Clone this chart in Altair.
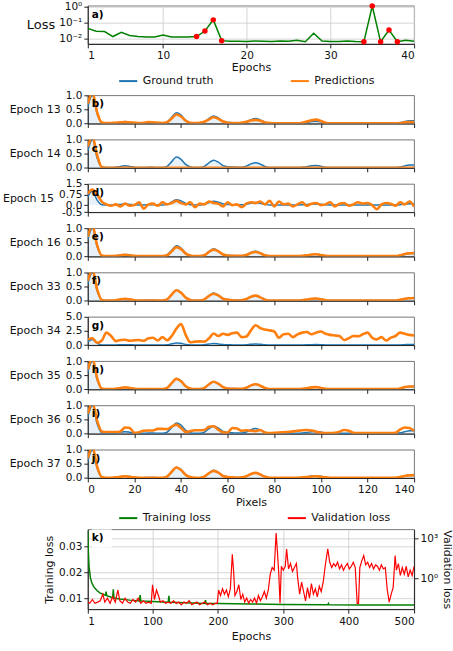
import altair as alt
import pandas as pd

FONT = "DejaVu Sans"
BLUE = "#1f77b4"
ORANGE = "#ff7f0e"
GREEN = "#008000"
RED = "#ff0000"
W = 327

# ---------------- panel a) loss over the first 40 epochs ----------------
EPOCHS_A = list(range(1, 41))
LOSS_A = [0.043, 0.028, 0.027, 0.013, 0.024, 0.015, 0.013, 0.012, 0.012, 0.016,
          0.012, 0.012, 0.012, 0.013, 0.029, 0.15, 0.0071, 0.0065, 0.0065, 0.0062,
          0.0068, 0.0065, 0.0062, 0.0068, 0.0065, 0.0075, 0.006, 0.021, 0.0068, 0.0062,
          0.0062, 0.0068, 0.0062, 0.006, 1.15, 0.006, 0.034, 0.006, 0.0075, 0.0065]
MARKED_EPOCHS = [14, 15, 16, 17, 34, 35, 36, 37, 38]
EPOCH_TICKS_A = [1, 10, 20, 30, 40]
LOSS_TICKS_A = [0.01, 0.1, 1]

# ---------------- panels b) - j) signals ----------------
PIXELS = list(range(0, 141, 2))
PIXEL_TICKS = [0, 20, 40, 60, 80, 100, 120, 140]
GROUND_TRUTH = [0.60, 1.00, 0.35, 0.03, 0.01, 0.01, 0.02, 0.05, 0.07, 0.05,
                0.02, 0.01, 0.01, 0.02, 0.02, 0.01, 0.01, 0.05, 0.22, 0.38,
                0.30, 0.12, 0.03, 0.01, 0.01, 0.05, 0.18, 0.27, 0.20, 0.08,
                0.04, 0.03, 0.02, 0.02, 0.06, 0.14, 0.18, 0.13, 0.05, 0.01,
                0.01, 0.01, 0.01, 0.01, 0.01, 0.01, 0.02, 0.04, 0.07, 0.08,
                0.06, 0.02, 0.01, 0.01, 0.01, 0.01, 0.01, 0.01, 0.01, 0.01,
                0.01, 0.01, 0.01, 0.01, 0.01, 0.01, 0.01, 0.03, 0.07, 0.10,
                0.10]
PRED_13 = [0.70, 1.10, 0.40, 0.04, 0.02, 0.02, 0.03, 0.04, 0.05, 0.04,
           0.03, 0.02, 0.03, 0.05, 0.04, 0.03, 0.02, 0.05, 0.18, 0.32,
           0.25, 0.10, 0.03, 0.02, 0.03, 0.06, 0.15, 0.22, 0.17, 0.07,
           0.03, 0.02, 0.02, 0.03, 0.06, 0.11, 0.13, 0.10, 0.04, 0.02,
           0.01, 0.01, 0.01, 0.01, 0.01, 0.01, 0.03, 0.07, 0.12, 0.14,
           0.09, 0.03, 0.01, 0.01, 0.01, 0.01, 0.01, 0.01, 0.01, 0.01,
           0.01, 0.01, 0.01, 0.01, 0.01, 0.01, 0.01, 0.02, 0.04, 0.05,
           0.05]
PRED_14 = [0.75, 1.10, 0.45, 0.03, 0.00, 0.00, 0.00, 0.00, 0.00, 0.00,
           0.00, 0.00, 0.00, 0.00, 0.00, 0.00, 0.00, 0.00, 0.00, 0.00,
           0.00, 0.00, 0.00, 0.00, 0.00, 0.00, 0.00, 0.00, 0.00, 0.00,
           0.00, 0.00, 0.00, 0.00, 0.00, 0.00, 0.00, 0.00, 0.00, 0.00,
           0.00, 0.00, 0.00, 0.00, 0.00, 0.00, 0.00, 0.00, 0.00, 0.00,
           0.00, 0.00, 0.00, 0.00, 0.00, 0.00, 0.00, 0.00, 0.00, 0.00,
           0.00, 0.00, 0.00, 0.00, 0.00, 0.00, 0.00, 0.00, 0.00, 0.00,
           0.00]
PRED_15 = [0.80, 1.10, 0.75, 0.25, 0.05, -0.05, 0.05, -0.10, 0.10, -0.05,
           0.00, 0.20, -0.25, 0.05, 0.10, -0.05, 0.20, 0.05, 0.15, 0.30,
           0.15, 0.05, 0.20, -0.15, 0.10, 0.05, 0.25, 0.15, 0.10, -0.10,
           0.20, 0.00, 0.05, -0.15, 0.10, 0.20, 0.15, 0.25, 0.05, 0.30,
           -0.10, 0.25, 0.05, 0.10, -0.10, 0.05, 0.20, -0.05, 0.10, 0.15,
           0.00, 0.05, 0.20, -0.10, 0.10, 0.15, -0.05, 0.05, 0.20, 0.10,
           0.15, 0.00, -0.30, 0.05, 0.15, 0.10, -0.05, 0.20, 0.05, 0.25,
           -0.10]
PRED_16 = [0.70, 1.10, 0.40, 0.03, 0.01, 0.01, 0.02, 0.04, 0.06, 0.04,
           0.02, 0.01, 0.01, 0.01, 0.01, 0.01, 0.01, 0.04, 0.18, 0.33,
           0.26, 0.10, 0.03, 0.01, 0.01, 0.04, 0.16, 0.24, 0.18, 0.07,
           0.03, 0.02, 0.02, 0.02, 0.05, 0.12, 0.16, 0.11, 0.04, 0.01,
           0.01, 0.01, 0.01, 0.01, 0.01, 0.01, 0.02, 0.04, 0.07, 0.08,
           0.05, 0.02, 0.01, 0.01, 0.01, 0.01, 0.01, 0.01, 0.01, 0.01,
           0.01, 0.01, 0.01, 0.01, 0.01, 0.01, 0.01, 0.04, 0.09, 0.11,
           0.12]
PRED_33 = [0.70, 1.10, 0.40, 0.03, 0.01, 0.01, 0.02, 0.05, 0.07, 0.05,
           0.02, 0.01, 0.01, 0.01, 0.01, 0.01, 0.01, 0.05, 0.22, 0.37,
           0.28, 0.11, 0.03, 0.01, 0.01, 0.05, 0.17, 0.25, 0.19, 0.07,
           0.03, 0.02, 0.01, 0.02, 0.06, 0.14, 0.18, 0.12, 0.04, 0.01,
           0.01, 0.01, 0.01, 0.01, 0.01, 0.01, 0.02, 0.04, 0.07, 0.08,
           0.05, 0.02, 0.01, 0.01, 0.01, 0.01, 0.01, 0.01, 0.01, 0.01,
           0.01, 0.01, 0.01, 0.01, 0.01, 0.01, 0.01, 0.03, 0.07, 0.09,
           0.10]
PRED_34 = [1.0, 1.2, 0.4, 0.8, 2.2, 1.6, 0.7, 0.9, 0.95, 0.75,
           0.85, 0.9, 0.75, 1.2, 1.3, 0.8, 1.4, 0.85, 1.6, 2.9,
           3.7, 1.8, 0.5, 0.6, 0.65, 0.6, 1.2, 2.05, 1.6, 2.0,
           1.8, 2.1, 2.2, 1.4, 1.5, 2.6, 3.5, 3.0, 2.75, 2.6,
           2.4, 1.3, 1.9, 2.0, 1.4, 1.9, 2.2, 2.3, 1.9, 2.2,
           2.4, 2.0, 1.8, 1.7, 1.6, 0.9, 1.2, 1.6, 1.55, 1.9,
           2.2, 1.3, 1.0, 1.4, 0.8, 1.3, 1.6, 2.2, 2.0, 1.8,
           1.7]
PRED_35 = [0.70, 1.10, 0.40, 0.03, 0.01, 0.01, 0.02, 0.05, 0.07, 0.05,
           0.02, 0.01, 0.01, 0.01, 0.01, 0.01, 0.01, 0.05, 0.22, 0.37,
           0.29, 0.11, 0.03, 0.01, 0.01, 0.05, 0.18, 0.27, 0.20, 0.08,
           0.03, 0.02, 0.02, 0.02, 0.06, 0.14, 0.18, 0.13, 0.05, 0.01,
           0.01, 0.01, 0.01, 0.01, 0.01, 0.01, 0.02, 0.04, 0.07, 0.08,
           0.05, 0.02, 0.01, 0.01, 0.01, 0.01, 0.01, 0.01, 0.01, 0.01,
           0.01, 0.01, 0.01, 0.01, 0.01, 0.01, 0.01, 0.03, 0.08, 0.10,
           0.10]
PRED_36 = [0.70, 1.10, 0.45, 0.08, 0.06, 0.06, 0.06, 0.08, 0.22, 0.20,
           0.03, 0.05, 0.10, 0.11, 0.11, 0.17, 0.17, 0.16, 0.25, 0.32,
           0.20, 0.06, 0.09, 0.12, 0.12, 0.13, 0.24, 0.26, 0.14, 0.05,
           0.04, 0.20, 0.18, 0.10, 0.12, 0.10, 0.09, 0.13, 0.04, 0.02,
           0.03, 0.04, 0.05, 0.06, 0.08, 0.10, 0.12, 0.13, 0.11, 0.07,
           0.03, 0.02, 0.02, 0.03, 0.07, 0.13, 0.10, 0.03, 0.02, 0.02,
           0.02, 0.02, 0.02, 0.02, 0.02, 0.02, 0.03, 0.15, 0.22, 0.20,
           0.10]
PRED_37 = [0.70, 1.10, 0.40, 0.03, 0.01, 0.01, 0.02, 0.04, 0.06, 0.04,
           0.02, 0.01, 0.01, 0.01, 0.01, 0.01, 0.01, 0.05, 0.22, 0.37,
           0.28, 0.11, 0.03, 0.01, 0.01, 0.05, 0.17, 0.25, 0.19, 0.07,
           0.03, 0.02, 0.01, 0.02, 0.06, 0.14, 0.18, 0.12, 0.04, 0.01,
           0.01, 0.01, 0.01, 0.01, 0.01, 0.01, 0.02, 0.03, 0.05, 0.06,
           0.04, 0.02, 0.01, 0.01, 0.01, 0.01, 0.01, 0.01, 0.01, 0.01,
           0.01, 0.01, 0.01, 0.01, 0.01, 0.01, 0.01, 0.03, 0.07, 0.09,
           0.10]

# ---------------- panel k) 500 epochs ----------------
TRAIN_EPOCHS = [1, 2, 3, 5, 7, 10, 15, 20, 28, 29, 30, 39, 40, 41, 50, 65, 80, 81, 82,
                100, 124, 125, 126, 150, 180, 181, 182, 200, 250, 300, 368, 369, 370,
                420, 500]
TRAIN_LOSS = [0.036, 0.027, 0.022, 0.018, 0.016, 0.0145, 0.013, 0.012, 0.0112, 0.0126,
              0.011, 0.0102, 0.0135, 0.0101, 0.0097, 0.0093, 0.009, 0.0113, 0.009,
              0.0088, 0.0085, 0.011, 0.0085, 0.0083, 0.008, 0.0093, 0.008, 0.008,
              0.0078, 0.0076, 0.0075, 0.008, 0.0075, 0.0074, 0.0074]
VAL_EPOCHS = [1, 4, 8, 12, 16, 20, 24, 27, 31, 35, 39, 43, 47, 50, 54, 58, 62, 66, 70, 74,
              78, 82, 86, 90, 94, 98, 100, 103, 106, 109, 112, 116, 120, 124, 128, 132,
              136, 140, 144, 148, 152, 156, 160, 164, 168, 172, 176, 180, 184, 188, 192,
              196, 199,
              201, 204, 207, 210, 213, 216, 219, 222, 224, 226,
              229, 232, 235, 238, 241, 244, 247, 250, 253, 256,
              259, 262, 265, 268, 271, 274, 277, 280, 283, 286,
              289, 291, 293, 295, 297, 300, 303, 305, 308, 311,
              314, 317, 320, 322, 325, 328, 331, 334, 337, 340,
              343, 346, 349, 352, 355, 358, 361, 364, 368, 371,
              374, 377, 380, 383, 386, 389, 392, 395, 398, 401,
              404, 407, 410, 413, 415, 417, 420, 423, 426, 429,
              432, 435, 438, 441, 444, 447, 450, 453, 456, 459,
              462, 465, 468, 471, 473, 476, 479, 482, 485, 488,
              491, 494, 497, 500]
VAL_LOSS = [0.016, 0.013, 0.025, 0.013, 0.016, 0.02, 0.063, 0.016, 0.032, 0.013,
            0.04, 0.016, 0.13, 0.02, 0.013, 0.032, 0.016, 0.013, 0.025, 0.016,
            0.032, 0.013, 0.02, 0.013, 0.016, 0.013, 0.32, 0.025, 0.13, 0.05,
            0.016, 0.02, 0.013, 0.016, 0.013, 0.02, 0.013, 0.016, 0.01, 0.016,
            0.013, 0.02, 0.01, 0.013, 0.016, 0.01, 0.013, 0.016, 0.01, 0.013,
            0.01, 0.013, 0.013,
            0.13, 0.05, 0.16, 0.063, 0.13, 0.04, 0.16, 63, 3.2, 0.05,
            0.1, 0.32, 0.025, 0.063, 0.016, 0.032, 0.013, 0.025, 0.016, 0.032,
            0.013, 0.05, 0.02, 0.04, 0.1, 0.032, 0.13, 2.0, 6.3, 4.0,
            2500, 100, 2.5, 0.013, 7.9, 4.0, 7.9, 158, 5.0, 12.6,
            3.2, 6.3, 12.6, 1.0, 0.063, 0.5, 0.1, 0.02, 0.2, 0.032,
            0.4, 0.063, 0.16, 0.04, 0.25, 0.1, 0.5, 7.9, 158, 15.8,
            6.3, 12.6, 7.9, 15.8, 5.0, 10, 4.0, 7.9, 12.6, 5.0,
            7.9, 15.8, 6.3, 0.013, 0.013, 6.3, 20, 50, 10, 15.8,
            6.3, 12.6, 5.0, 10, 7.9, 4.0, 10, 5.0, 6.3, 0.13,
            0.016, 0.063, 0.2, 50, 4.0, 12.6, 1.6, 6.3, 2.0, 7.9,
            1.26, 4.0, 1.6, 7.9]
EPOCH_TICKS_K = [1, 100, 200, 300, 400, 500]
TRAIN_TICKS = [0.01, 0.02, 0.03]
VAL_TICKS = [1, 1000]

LEGEND_COMMON = dict(orient="none", direction="horizontal", title=None,
                     symbolType="stroke", symbolStrokeWidth=2, symbolSize=330,
                     labelFontSize=11, labelFont=FONT, labelColor="#111",
                     labelOffset=4, columnPadding=72, padding=0)


def letter_layer(text):
    return alt.Chart(pd.DataFrame({"t": [text]})).mark_text(
        align="left", baseline="top", fontWeight="bold", fontSize=10.5,
        font=FONT, color="black").encode(
        text="t:N", x=alt.value(4), y=alt.value(4))


def spacer(h):
    return alt.Chart(pd.DataFrame({"v": [0]})).mark_rule(opacity=0).encode(
        y=alt.value(0)).properties(width=W, height=h,
                                   view=alt.ViewBackground(stroke="transparent"))


# ---- panel a
dfa = pd.DataFrame({"epoch": EPOCHS_A, "loss": LOSS_A})
dfm = dfa[dfa["epoch"].isin(MARKED_EPOCHS)]
xa = alt.X("epoch:Q", scale=alt.Scale(domain=[1, 40], nice=False, zero=False),
           axis=alt.Axis(values=EPOCH_TICKS_A, title="Epochs", grid=True,
                         labelPadding=3, titlePadding=0))
ya = alt.Y("loss:Q", scale=alt.Scale(type="log", domain=[0.0044, 1.2], nice=False),
           axis=alt.Axis(values=LOSS_TICKS_A, grid=True, title="Loss", titleAngle=0,
                         titleAlign="right", titleBaseline="middle", titleFontSize=13,
                         labelOverlap=False,
                         labelExpr="datum.value > 0.5 ? '10⁰' : (datum.value > 0.05 ? '10⁻¹' : '10⁻²')"))
panel_a = alt.layer(
    alt.Chart(dfa).mark_line(color=GREEN, strokeWidth=1.5).encode(x=xa, y=ya),
    alt.Chart(dfm).mark_circle(color=RED, size=30, opacity=1).encode(x=xa, y=ya),
    letter_layer("a)"),
).properties(width=W, height=38.3)


# ---- panels b - j
def signal_panel(letter, title, pred, ydom, yticks, legend=False, bottom=False):
    df = pd.DataFrame({"pixel": PIXELS, "gt": GROUND_TRUTH, "pred": pred})
    xaxis = dict(values=PIXEL_TICKS, grid=False, labels=bottom, labelPadding=3)
    if bottom:
        xaxis["title"] = "Pixels"
        xaxis["titlePadding"] = 1
    else:
        xaxis["title"] = None
    yaxis = dict(values=yticks, grid=False, title=title, titleAngle=0,
                 titleAlign="right", titleBaseline="middle", titlePadding=5,
                 labelOverlap=False, labelBound=False, labelFlush=False)
    if ydom[0] < 0:
        yaxis["labelExpr"] = ("datum.value == 0.75 ? '0.75' : (datum.value < 0 ? "
                              "'-' + format(-datum.value, '.1f') : format(datum.value, '.1f'))")
    else:
        yaxis["format"] = ".1f"
    xscale = alt.Scale(domain=[0, 140], nice=False, zero=False)
    yscale = alt.Scale(domain=ydom, nice=False, zero=False)
    xenc = alt.X("pixel:Q", scale=xscale, axis=alt.Axis(**xaxis))
    cscale = alt.Scale(domain=["Ground truth", "Predictions"], range=[BLUE, ORANGE])
    if legend:
        leg = alt.Legend(legendX=30, legendY=-25, **LEGEND_COMMON)
    else:
        leg = None
    base = alt.Chart(df)
    area = base.mark_area(color=BLUE, opacity=0.1, interpolate="monotone", clip=True).encode(
        x=xenc, y=alt.Y("gt:Q", scale=yscale, axis=alt.Axis(**yaxis)), y2=alt.datum(0))
    gt_line = base.mark_line(strokeWidth=1.5, interpolate="monotone", clip=True).transform_calculate(
        series="'Ground truth'").encode(
        x=xenc, y=alt.Y("gt:Q", scale=yscale, axis=alt.Axis(**yaxis)),
        color=alt.Color("series:N", scale=cscale, legend=leg))
    pr_line = base.mark_line(strokeWidth=2.6, interpolate="monotone", clip=True).transform_calculate(
        series="'Predictions'").encode(
        x=xenc, y=alt.Y("pred:Q", scale=yscale, axis=alt.Axis(**yaxis)),
        color=alt.Color("series:N"))
    return alt.layer(area, gt_line, pr_line, letter_layer(letter)).properties(width=W, height=28.3)


UNIT = [0, 1]
UNIT_TICKS = [0, 0.5, 1.0]
panel_b = signal_panel("b)", "Epoch 13", PRED_13, UNIT, UNIT_TICKS, legend=True)
panel_c = signal_panel("c)", "Epoch 14", PRED_14, UNIT, UNIT_TICKS)
panel_d = signal_panel("d)", "Epoch 15", PRED_15, [-0.5, 1.5], [-0.5, 0.0, 0.75, 1.5])
panel_e = signal_panel("e)", "Epoch 16", PRED_16, UNIT, UNIT_TICKS)
panel_f = signal_panel("f)", "Epoch 33", PRED_33, UNIT, UNIT_TICKS)
panel_g = signal_panel("g)", "Epoch 34", PRED_34, [0, 5], [0, 2.5, 5.0])
panel_h = signal_panel("h)", "Epoch 35", PRED_35, UNIT, UNIT_TICKS)
panel_i = signal_panel("i)", "Epoch 36", PRED_36, UNIT, UNIT_TICKS)
panel_j = signal_panel("j)", "Epoch 37", PRED_37, UNIT, UNIT_TICKS, bottom=True)

# ---- panel k
dft = pd.DataFrame({"epoch": TRAIN_EPOCHS, "train": TRAIN_LOSS})
dfv = pd.DataFrame({"epoch": VAL_EPOCHS, "val": VAL_LOSS})
kscale = alt.Scale(domain=["Training loss", "Validation loss"], range=[GREEN, RED])
xk = alt.X("epoch:Q", scale=alt.Scale(domain=[1, 500], nice=False, zero=False),
           axis=alt.Axis(values=EPOCH_TICKS_K, title="Epochs", grid=True,
                         labelPadding=3, titlePadding=4))
green = alt.Chart(dft).mark_line(strokeWidth=1.5, clip=True).transform_calculate(
    series="'Training loss'").encode(
    x=xk,
    y=alt.Y("train:Q", scale=alt.Scale(domain=[0.0058, 0.0367], nice=False, zero=False),
            axis=alt.Axis(orient="left", values=TRAIN_TICKS, format=".2f", grid=True,
                          title="Training loss", titlePadding=4, labelOverlap=False)),
    color=alt.Color("series:N", scale=kscale,
                    legend=alt.Legend(legendX=30, legendY=-22, **LEGEND_COMMON)))
red = alt.Chart(dfv).mark_line(strokeWidth=1.2, clip=True).transform_calculate(
    series="'Validation loss'").encode(
    x=xk,
    y=alt.Y("val:Q", scale=alt.Scale(type="log", domain=[0.0047, 4700], nice=False),
            axis=alt.Axis(orient="right", values=VAL_TICKS, grid=True,
                          title="Validation loss", titlePadding=4, labelOverlap=False,
                          labelExpr="datum.value > 10 ? '10³' : '10⁰'")),
    color=alt.Color("series:N"))
kbox = alt.Chart(pd.DataFrame({"t": ["k)"]})).mark_rect(color="white").encode(
    x=alt.value(4), x2=alt.value(24), y=alt.value(0), y2=alt.value(18))
panel_k = alt.layer(green, red, kbox, letter_layer("k)")).resolve_scale(
    y="independent").properties(width=W, height=80)

chart = alt.vconcat(
    panel_a, spacer(19.7), panel_b, panel_c, panel_d, panel_e, panel_f, panel_g,
    panel_h, panel_i, panel_j, spacer(19.4), panel_k, spacing=15.4, bounds="flush"
).resolve_scale(
    x="independent", y="independent", color="independent"
).resolve_legend(color="independent").properties(
    padding={"left": 2, "top": 0, "right": 0, "bottom": 0}
).configure(font=FONT).configure_view(
    stroke="#555", strokeWidth=0.8
).configure_axis(
    labelFont=FONT, titleFont=FONT, labelFontSize=10.5, titleFontSize=11,
    titleFontWeight="normal", labelColor="#111", titleColor="#111",
    tickColor="#222", domainColor="#222", tickSize=4, labelPadding=2,
    gridColor="#cccccc", gridWidth=0.8, labelOverlap=False
)

chart.save("out.html", embed_options={"renderer": "svg", "actions": False})
